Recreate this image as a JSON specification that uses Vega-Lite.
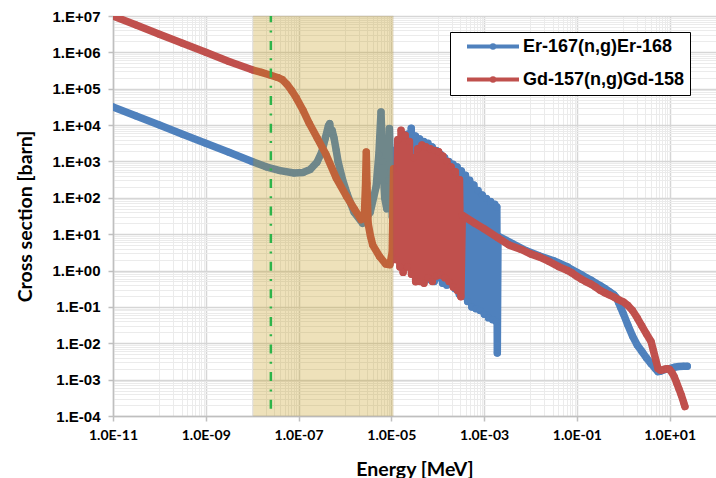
{
"$schema":"https://vega.github.io/schema/vega-lite/v6.json",
"width":603,"height":400,
"autosize":{"type":"none"},
"padding":{"left":113,"top":16,"right":0,"bottom":62},
"background":"#ffffff",
"config":{"view":{"stroke":null}},
"datasets":{
"er":[
{"E":1e-11,"s":31600},{"E":3.16e-11,"s":17800},{"E":1e-10,"s":10000},{"E":3.16e-10,"s":5620},{"E":1e-9,"s":3160},{"E":3.16e-9,"s":1780},{"E":1e-8,"s":1000},{"E":2e-8,"s":710},{"E":4e-8,"s":560},{"E":8e-8,"s":480},{"E":1.26e-7,"s":500},{"E":1.78e-7,"s":600},{"E":2.5e-7,"s":950},{"E":3.16e-7,"s":1800},{"E":3.8e-7,"s":4500},{"E":4.4e-7,"s":9500},{"E":4.7e-7,"s":11000},{"E":5.0e-7,"s":6000},{"E":5.3e-7,"s":7200},{"E":5.8e-7,"s":4500},{"E":6.5e-7,"s":2000},{"E":7.1e-7,"s":1000},{"E":8.9e-7,"s":316},{"E":1.12e-6,"s":126},{"E":1.58e-6,"s":40},{"E":2.4e-6,"s":20},{"E":3.5e-6,"s":40},{"E":4.7e-6,"s":200},{"E":5.4e-6,"s":1600},{"E":6.0e-6,"s":23000},{"E":6.5e-6,"s":1000},{"E":7.2e-6,"s":100},{"E":8.0e-6,"s":50},{"E":8.7e-6,"s":300},{"E":9.1e-6,"s":8100},{"E":9.6e-6,"s":500},{"E":1.05e-5,"s":30},
{"E":1.175e-5,"s":1995},{"E":1.303e-5,"s":2.51},{"E":1.445e-5,"s":3162},{"E":1.603e-5,"s":3.55},{"E":1.778e-5,"s":4467},{"E":1.972e-5,"s":5.01},{"E":2.188e-5,"s":5623},{"E":2.427e-5,"s":3.16},{"E":2.692e-5,"s":8128},{"E":2.985e-5,"s":2.0},{"E":3.311e-5,"s":5012},{"E":3.673e-5,"s":1.0},{"E":4.074e-5,"s":4169},{"E":4.519e-5,"s":0.794},{"E":5.012e-5,"s":3548},{"E":5.559e-5,"s":1.585},{"E":6.166e-5,"s":3162},{"E":6.839e-5,"s":0.562},{"E":7.586e-5,"s":2512},{"E":8.414e-5,"s":0.501},{"E":9.333e-5,"s":1995},{"E":1.035e-4,"s":0.631},{"E":1.148e-4,"s":1585},{"E":1.274e-4,"s":0.447},{"E":1.413e-4,"s":1259},{"E":1.567e-4,"s":0.398},{"E":1.738e-4,"s":1000},{"E":1.928e-4,"s":0.501},{"E":2.138e-4,"s":832},{"E":2.371e-4,"s":0.316},{"E":2.63e-4,"s":708},{"E":2.917e-4,"s":0.224},{"E":3.236e-4,"s":550},{"E":3.589e-4,"s":0.2},{"E":3.981e-4,"s":417},{"E":4.416e-4,"s":0.141},{"E":4.898e-4,"s":302},{"E":5.433e-4,"s":0.1},{"E":6.026e-4,"s":224},{"E":6.683e-4,"s":0.0891},{"E":7.413e-4,"s":158},{"E":8.222e-4,"s":0.0794},{"E":9.12e-4,"s":120},{"E":1.012e-3,"s":0.0631},{"E":1.122e-3,"s":95.5},{"E":1.245e-3,"s":0.0501},{"E":1.38e-3,"s":79.4},{"E":1.531e-3,"s":0.0447},{"E":1.698e-3,"s":66.1},{"E":1.82e-3,"s":0.0398},{"E":1.884e-3,"s":56.2},{"E":1.928e-3,"s":0.00537},{"E":1.995e-3,"s":8.91},
{"E":3.98e-3,"s":5.62},{"E":7.94e-3,"s":3.55},{"E":1.585e-2,"s":2.51},{"E":3.16e-2,"s":1.86},{"E":4.17e-2,"s":1.585},{"E":6.31e-2,"s":1.26},{"E":7.94e-2,"s":1.047},{"E":0.1,"s":0.891},{"E":0.126,"s":0.759},{"E":0.158,"s":0.646},{"E":0.2,"s":0.55},{"E":0.251,"s":0.457},{"E":0.316,"s":0.389},{"E":0.398,"s":0.324},{"E":0.501,"s":0.263},{"E":0.631,"s":0.214},{"E":0.708,"s":0.182},{"E":0.794,"s":0.132},{"E":0.891,"s":0.0933},{"E":1.0,"s":0.0661},{"E":1.26,"s":0.0316},{"E":1.585,"s":0.0158},{"E":2.0,"s":0.00891},{"E":2.51,"s":0.00603},{"E":3.16,"s":0.00398},{"E":3.98,"s":0.00275},{"E":5.01,"s":0.00195},{"E":5.62,"s":0.00166},{"E":6.31,"s":0.0017},{"E":7.94,"s":0.00191},{"E":10.0,"s":0.002},{"E":12.6,"s":0.00219},{"E":15.85,"s":0.00229},{"E":20.0,"s":0.00234},{"E":24.0,"s":0.00234}
],
"gd":[
{"E":1e-11,"s":1e7},{"E":3.16e-11,"s":5.62e6},{"E":1e-10,"s":3.16e6},{"E":3.16e-10,"s":1.78e6},{"E":1e-9,"s":1e6},{"E":3.16e-9,"s":5.62e5},{"E":1e-8,"s":3.31e5},{"E":1.585e-8,"s":2.82e5},{"E":2.51e-8,"s":2.34e5},{"E":3.55e-8,"s":2.04e5},{"E":4.47e-8,"s":1.78e5},{"E":5.62e-8,"s":1.32e5},{"E":7.08e-8,"s":8.9e4},{"E":8.91e-8,"s":5.62e4},{"E":1.26e-7,"s":2.51e4},{"E":1.7e-7,"s":1.12e4},{"E":2.51e-7,"s":4470},{"E":3.89e-7,"s":1585},{"E":6.46e-7,"s":355},{"E":1.07e-6,"s":112},{"E":1.585e-6,"s":50.1},{"E":2.24e-6,"s":25.1},{"E":2.63e-6,"s":35.5},{"E":2.786e-6,"s":251},{"E":2.884e-6,"s":1820},{"E":2.985e-6,"s":251},{"E":3.16e-6,"s":20},{"E":3.55e-6,"s":8.91},{"E":3.98e-6,"s":5.01},{"E":5.62e-6,"s":2.4},{"E":7.59e-6,"s":1.51},{"E":9.33e-6,"s":1.45},{"E":1.047e-5,"s":3.16},
{"E":1.122e-5,"s":631},{"E":1.245e-5,"s":2.0},{"E":1.38e-5,"s":3981},{"E":1.531e-5,"s":1.259},{"E":1.622e-5,"s":7244},{"E":1.799e-5,"s":0.891},{"E":1.995e-5,"s":5248},{"E":2.213e-5,"s":1.259},{"E":2.455e-5,"s":3548},{"E":2.723e-5,"s":0.794},{"E":3.02e-5,"s":1259},{"E":3.35e-5,"s":0.49},{"E":3.715e-5,"s":2239},{"E":4.121e-5,"s":0.501},{"E":4.571e-5,"s":2818},{"E":5.07e-5,"s":0.447},{"E":5.623e-5,"s":2512},{"E":6.237e-5,"s":0.631},{"E":6.918e-5,"s":2239},{"E":7.674e-5,"s":0.501},{"E":8.511e-5,"s":1995},{"E":9.441e-5,"s":0.708},{"E":1.047e-4,"s":1862},{"E":1.161e-4,"s":0.759},{"E":1.288e-4,"s":1413},{"E":1.429e-4,"s":0.631},{"E":1.585e-4,"s":1000},{"E":1.758e-4,"s":0.501},{"E":1.95e-4,"s":708},{"E":2.163e-4,"s":0.355},{"E":2.399e-4,"s":525},{"E":2.661e-4,"s":0.282},{"E":2.951e-4,"s":316},{"E":3.162e-4,"s":0.191},{"E":3.388e-4,"s":33.1},
{"E":6.31e-4,"s":19.95},{"E":1e-3,"s":14.1},{"E":1.995e-3,"s":7.94},{"E":3.47e-3,"s":5.01},{"E":6.31e-3,"s":3.8},{"E":1e-2,"s":2.88},{"E":1.585e-2,"s":2.34},{"E":2.51e-2,"s":1.78},{"E":4.17e-2,"s":1.26},{"E":6.31e-2,"s":1.0},{"E":7.94e-2,"s":0.851},{"E":0.1,"s":0.692},{"E":0.126,"s":0.575},{"E":0.158,"s":0.49},{"E":0.2,"s":0.427},{"E":0.251,"s":0.355},{"E":0.316,"s":0.288},{"E":0.398,"s":0.245},{"E":0.501,"s":0.214},{"E":0.631,"s":0.186},{"E":0.794,"s":0.158},{"E":1.0,"s":0.138},{"E":1.26,"s":0.11},{"E":1.585,"s":0.0794},{"E":2.0,"s":0.0501},{"E":2.51,"s":0.0302},{"E":3.16,"s":0.0182},{"E":3.98,"s":0.0112},{"E":4.47,"s":0.00631},{"E":5.01,"s":0.00355},{"E":5.62,"s":0.002},{"E":6.31,"s":0.00182},{"E":7.08,"s":0.00186},{"E":7.94,"s":0.00195},{"E":8.91,"s":0.002},{"E":10.0,"s":0.00191},{"E":11.2,"s":0.00158},{"E":12.6,"s":0.0012},{"E":14.1,"s":0.000832},{"E":15.85,"s":0.000562},{"E":17.8,"s":0.00038},{"E":20.0,"s":0.00024},{"E":21.4,"s":0.000182}
]
},
"resolve":{"axis":{"x":"independent","y":"independent"}},
"layer":[
{"data":{"name":"er"},
 "mark":{"type":"line","strokeWidth":7.5,"strokeJoin":"round","strokeCap":"round","clip":true},
 "encoding":{
  "x":{"field":"E","type":"quantitative","scale":{"type":"log","domain":[1e-11,100],"nice":false},
   "axis":{"orient":"bottom","values":[1e-10,2e-10,3e-10,4e-10,5e-10,6e-10,7e-10,8e-10,9e-10,1e-8,2e-8,3e-8,4e-8,5e-8,6e-8,7e-8,8e-8,9e-8,1e-6,2e-6,3e-6,4e-6,5e-6,6e-6,7e-6,8e-6,9e-6,1e-4,2e-4,3e-4,4e-4,5e-4,6e-4,7e-4,8e-4,9e-4,0.01,0.02,0.03,0.04,0.05,0.06,0.07,0.08,0.09,1,2,3,4,5,6,7,8,9],"grid":true,"gridColor":"#ebebeb","gridWidth":1,"labels":false,"ticks":false,"domain":false,"title":null}},
  "y":{"field":"s","type":"quantitative","scale":{"type":"log","domain":[1e-4,1e7],"nice":false},
   "axis":{"orient":"left","values":[2e-4,3e-4,4e-4,5e-4,6e-4,7e-4,8e-4,9e-4,2e-3,3e-3,4e-3,5e-3,6e-3,7e-3,8e-3,9e-3,0.02,0.03,0.04,0.05,0.06,0.07,0.08,0.09,0.2,0.3,0.4,0.5,0.6,0.7,0.8,0.9,2,3,4,5,6,7,8,9,20,30,40,50,60,70,80,90,200,300,400,500,600,700,800,900,2000,3000,4000,5000,6000,7000,8000,9000,2e4,3e4,4e4,5e4,6e4,7e4,8e4,9e4,2e5,3e5,4e5,5e5,6e5,7e5,8e5,9e5,2e6,3e6,4e6,5e6,6e6,7e6,8e6,9e6],"grid":true,"gridColor":"#ebebeb","gridWidth":1,"labels":false,"ticks":false,"domain":false,"title":null}},
  "color":{"datum":"Er-167(n,g)Er-168","type":"nominal","scale":{"domain":["Er-167(n,g)Er-168","Gd-157(n,g)Gd-158"],"range":["#4F81BD","#C0504D"]},
   "legend":{"orient":"none","legendX":337,"legendY":16,"title":null,"fillColor":"#ffffff","strokeColor":"#000000","padding":5.5,"labelFont":"Liberation Sans","labelFontSize":18,"labelFontWeight":"bold","labelColor":"#000000","labelLimit":400,"labelOffset":21,"symbolOffset":28.5,"symbolType":"M-5.2,0H5.2M-0.25,0A0.25,0.25 0 1,0 0.25,0A0.25,0.25 0 1,0 -0.25,0","symbolSize":100,"symbolStrokeWidth":4,"rowPadding":13,"labelExpr":"datum.label + '\u00a0\u00a0\u00a0\u00a0'"}}
 }},
{"data":{"name":"er"},
 "mark":{"type":"circle","size":50,"color":"#4F81BD","opacity":1,"clip":true},
 "encoding":{"x":{"field":"E","type":"quantitative","axis":null},"y":{"field":"s","type":"quantitative","axis":null}}},
{"data":{"name":"gd"},
 "mark":{"type":"line","strokeWidth":7.5,"strokeJoin":"round","strokeCap":"round","clip":true},
 "encoding":{
  "x":{"field":"E","type":"quantitative",
   "axis":{"orient":"bottom","values":[1e-11,1e-9,1e-7,1e-5,1e-3,0.1,10],"grid":true,"gridColor":"#d6d6d6","gridWidth":1.5,"domain":true,"domainColor":"#bfbfbf","domainWidth":1.5,"ticks":true,"tickColor":"#bfbfbf","tickSize":5,"tickWidth":1.5,"labelExpr":"'1.0E' + (datum.value >= 1 ? '+' : '-') + format(abs(round(log(datum.value)/LN10)), '02d')","labelFont":"Lato","labelFontWeight":"bold","labelFontSize":14,"labelColor":"#000000","labelPadding":7,"labelFlush":false,"labelOverlap":false,"title":"Energy [MeV]","titleFont":"Lato","titleFontSize":19.5,"titleFontWeight":"bold","titleColor":"#000000","titlePadding":18}},
  "y":{"field":"s","type":"quantitative",
   "axis":{"orient":"left","values":[1e-4,1e-3,1e-2,0.1,1,10,100,1000,1e4,1e5,1e6,1e7],"grid":true,"gridColor":"#d6d6d6","gridWidth":1.5,"domain":true,"domainColor":"#bfbfbf","domainWidth":1.5,"ticks":true,"tickColor":"#bfbfbf","tickSize":5,"tickWidth":1.5,"labelExpr":"'1.E' + (datum.value >= 1 ? '+' : '-') + format(abs(round(log(datum.value)/LN10)), '02d')","labelFont":"Liberation Sans","labelFontWeight":"bold","labelFontSize":15,"labelColor":"#000000","labelPadding":8,"labelFlush":false,"labelOverlap":false,"title":"Cross section [barn]","titleFont":"Lato","titleFontSize":19.5,"titleFontWeight":"bold","titleColor":"#000000","titlePadding":17}},
  "color":{"datum":"Gd-157(n,g)Gd-158","type":"nominal","scale":{"domain":["Er-167(n,g)Er-168","Gd-157(n,g)Gd-158"],"range":["#4F81BD","#C0504D"]},
   "legend":{"orient":"none","legendX":337,"legendY":16,"title":null,"fillColor":"#ffffff","strokeColor":"#000000","padding":5.5,"labelFont":"Liberation Sans","labelFontSize":18,"labelFontWeight":"bold","labelColor":"#000000","labelLimit":400,"labelOffset":21,"symbolOffset":28.5,"symbolType":"M-5.2,0H5.2M-0.25,0A0.25,0.25 0 1,0 0.25,0A0.25,0.25 0 1,0 -0.25,0","symbolSize":100,"symbolStrokeWidth":4,"rowPadding":13,"labelExpr":"datum.label + '\u00a0\u00a0\u00a0\u00a0'"}}
 }},
{"data":{"name":"gd"},
 "mark":{"type":"circle","size":50,"color":"#C0504D","opacity":1,"clip":true},
 "encoding":{"x":{"field":"E","type":"quantitative","axis":null},"y":{"field":"s","type":"quantitative","axis":null}}},
{"data":{"values":[{"E0":1.05e-8,"E1":1.1e-5}]},
 "mark":{"type":"rect","color":"#C3970B","opacity":0.28,"stroke":"#8a7440","strokeWidth":1,"strokeOpacity":0.5},
 "encoding":{"x":{"field":"E0","type":"quantitative","axis":null},"x2":{"field":"E1"}}},
{"data":{"values":[{"E":2.53e-8}]},
 "mark":{"type":"rule","color":"#2DB44A","strokeWidth":2.5,"strokeDash":[9,8.3,2,8.3],"strokeDashOffset":2.7},
 "encoding":{"x":{"field":"E","type":"quantitative","axis":null}}}
]
}
